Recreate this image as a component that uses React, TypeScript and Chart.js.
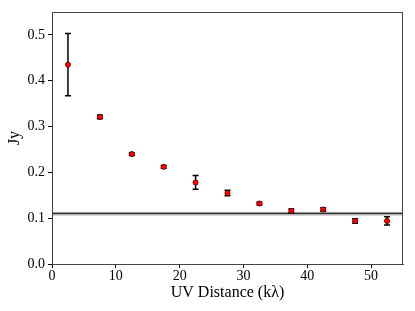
import React, { useEffect, useRef } from "react";
import { Chart, registerables } from "chart.js";

Chart.register(...registerables);

const uvDistance = [2.5, 7.5, 12.5, 17.5, 22.5, 27.5, 32.5, 37.5, 42.5, 47.5, 52.5];
const fluxJy = [0.435, 0.321, 0.240, 0.212, 0.178, 0.155, 0.132, 0.116, 0.119, 0.094, 0.094];
const fluxErr = [0.068, 0.004, 0.003, 0.003, 0.015, 0.006, 0.003, 0.004, 0.004, 0.005, 0.009];
const modelLevel = 0.111;
const modelBandLow = 0.106;
const xTicks = [0, 10, 20, 30, 40, 50];
const yTicks = [0.0, 0.1, 0.2, 0.3, 0.4, 0.5];

const FONT = "'Liberation Serif', 'Times New Roman', serif";

const errorBarPlugin = {
  id: "errorBars",
  afterDatasetsDraw(chart: any) {
    const ds = chart.data.datasets.findIndex((d: any) => d.label === "data");
    if (ds < 0) return;
    const meta = chart.getDatasetMeta(ds);
    const xs = chart.scales.x;
    const ys = chart.scales.y;
    const ctx = chart.ctx;
    ctx.save();
    ctx.strokeStyle = "#000";
    ctx.lineWidth = 1.5;
    uvDistance.forEach((u, i) => {
      const x = xs.getPixelForValue(u);
      const y1 = ys.getPixelForValue(fluxJy[i] + fluxErr[i]);
      const y2 = ys.getPixelForValue(fluxJy[i] - fluxErr[i]);
      ctx.beginPath();
      ctx.moveTo(x, y1);
      ctx.lineTo(x, y2);
      ctx.moveTo(x - 3, y1);
      ctx.lineTo(x + 3, y1);
      ctx.moveTo(x - 3, y2);
      ctx.lineTo(x + 3, y2);
      ctx.stroke();
    });
    ctx.restore();
    meta.controller.draw();
  },
};

const framePlugin = {
  id: "frame",
  afterDraw(chart: any) {
    const { left, right, top, bottom } = chart.chartArea;
    const ctx = chart.ctx;
    ctx.save();
    ctx.strokeStyle = "#444";
    ctx.lineWidth = 1;
    ctx.strokeRect(left + 0.5, top + 0.5, right - left - 1, bottom - top);
    ctx.restore();
  },
};

export default function App() {
  const ref = useRef<HTMLCanvasElement>(null);
  useEffect(() => {
    document.body.style.margin = "0";
    const chart = new Chart(ref.current!, {
      type: "scatter",
      data: {
        datasets: [
          {
            label: "bandLow",
            type: "line",
            data: [
              { x: 0, y: modelBandLow },
              { x: 55, y: modelBandLow },
            ],
            borderColor: "rgba(0,0,0,0)",
            borderWidth: 0,
            pointRadius: 0,
            fill: false,
            order: 3,
          } as any,
          {
            label: "band",
            type: "line",
            data: [
              { x: 0, y: modelLevel },
              { x: 55, y: modelLevel },
            ],
            borderColor: "#333",
            borderWidth: 1.5,
            backgroundColor: "rgba(140,140,140,0.7)",
            pointRadius: 0,
            fill: "-1",
            order: 2,
          } as any,
          {
            label: "data",
            data: uvDistance.map((u, i) => ({ x: u, y: fluxJy[i] })),
            pointRadius: 2.5,
            pointBackgroundColor: "#ff0000",
            pointBorderColor: "#550000",
            pointBorderWidth: 0.6,
            order: 1,
          },
        ],
      },
      options: {
        animation: false,
        responsive: false,
        maintainAspectRatio: false,
        layout: { padding: { top: 12, right: 12, left: 5, bottom: 9 } },
        plugins: { legend: { display: false }, tooltip: { enabled: false } },
        scales: {
          x: {
            type: "linear",
            min: 0,
            max: 55,
            afterBuildTicks: (s: any) => {
              s.ticks = xTicks.map((v) => ({ value: v }));
            },
            afterFit: (s: any) => {
              s.height = 38;
            },
            ticks: {
              color: "#000",
              font: { family: FONT, size: 14 },
              padding: 0,
              maxRotation: 0,
              callback: (v: any) => String(v),
            },
            grid: { drawOnChartArea: false, tickLength: 4, color: "#000" },
            border: { color: "#444", width: 1 },
            title: {
              display: true,
              text: "UV Distance (kλ)",
              color: "#000",
              font: { family: FONT, size: 16 },
              padding: { top: 0, bottom: 0 },
            },
          },
          y: {
            type: "linear",
            min: 0,
            max: 0.55,
            afterBuildTicks: (s: any) => {
              s.ticks = yTicks.map((v) => ({ value: v }));
            },
            afterFit: (s: any) => {
              s.width = 47;
            },
            ticks: {
              color: "#000",
              font: { family: FONT, size: 14 },
              padding: 3,
              callback: (v: any) => Number(v).toFixed(1),
            },
            grid: { drawOnChartArea: false, tickLength: 4, color: "#000" },
            border: { color: "#444", width: 1 },
            title: {
              display: true,
              text: "Jy",
              color: "#000",
              font: { family: FONT, size: 16 },
              padding: { top: 0, bottom: 2 },
            },
          },
        },
      },
      plugins: [errorBarPlugin, framePlugin],
    });
    return () => chart.destroy();
  }, []);
  return (
    <div style={{ position: "absolute", left: 0, top: 0, width: 415, height: 311 }}>
      <canvas ref={ref} width={415} height={311} />
    </div>
  );
}
